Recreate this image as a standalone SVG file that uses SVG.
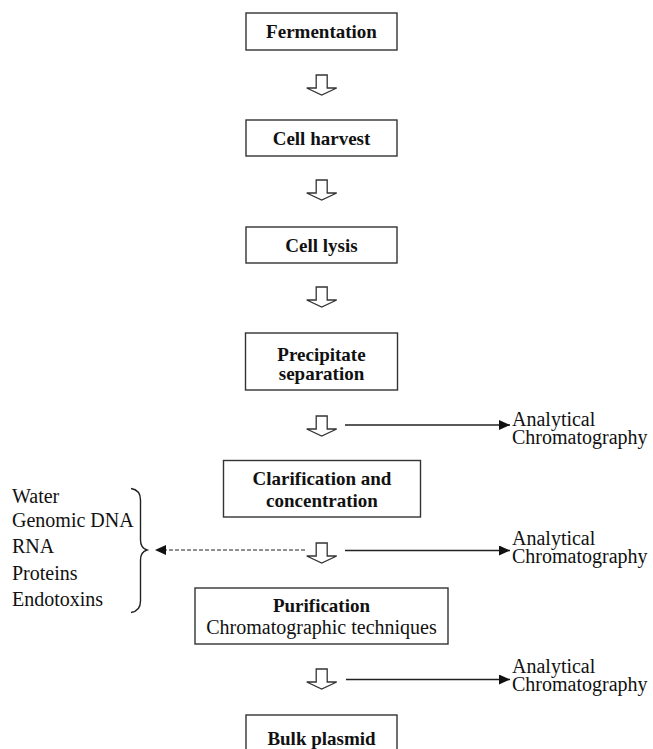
<svg xmlns="http://www.w3.org/2000/svg" width="653" height="749" viewBox="0 0 653 749">
<style>
.box{fill:#fff;stroke:#333;stroke-width:1.4}
.b{font-family:"Liberation Serif","DejaVu Serif",serif;font-weight:bold;font-size:19px;fill:#111;text-anchor:middle}
.r{font-family:"Liberation Serif","DejaVu Serif",serif;font-size:20px;fill:#111}
.rc{text-anchor:middle}
.hol{fill:#fff;stroke:#333;stroke-width:1.3;stroke-linejoin:miter}
.ln{stroke:#222;stroke-width:1.4;fill:none}
.dash{stroke:#222;stroke-width:1.2;fill:none;stroke-dasharray:4 2}
</style>
<defs>
<path id="hollow" d="M-5.5 0 H5.5 V13 H15 L0 20 L-15 13 H-5.5 Z"/>
<marker id="ah" markerWidth="12" markerHeight="10" refX="11" refY="5" orient="auto" markerUnits="userSpaceOnUse">
<path d="M0 0 L11 5 L0 10 Z" fill="#111"/>
</marker>
</defs>

<g id="fermentation">
<rect class="box" x="246" y="13" width="151" height="37"/>
<text class="b" x="321.5" y="38">Fermentation</text>
</g>
<g id="cell-harvest">
<rect class="box" x="246" y="120" width="151" height="36"/>
<text class="b" x="321.5" y="145">Cell harvest</text>
</g>
<g id="cell-lysis">
<rect class="box" x="246" y="227" width="151" height="36"/>
<text class="b" x="321.5" y="252">Cell lysis</text>
</g>
<g id="precipitate-separation">
<rect class="box" x="245.5" y="333" width="152" height="57"/>
<text class="b" x="321.5" y="361">Precipitate<tspan x="321.5" dy="19">separation</tspan></text>
</g>
<g id="clarification">
<rect class="box" x="223.5" y="460.5" width="197" height="56.5"/>
<text class="b" x="322" y="485">Clarification and<tspan x="322" dy="22">concentration</tspan></text>
</g>
<g id="purification">
<rect class="box" x="195" y="588" width="253" height="56"/>
<text class="b" x="321.5" y="612">Purification</text>
<text class="r rc" x="321.5" y="634">Chromatographic techniques</text>
</g>
<g id="bulk-plasmid">
<rect class="box" x="246" y="715" width="151" height="37"/>
<text class="b" x="321.5" y="745">Bulk plasmid</text>
</g>

<g id="analytical-1">
<text class="r" x="512" y="426">Analytical<tspan x="512" dy="18">Chromatography</tspan></text>
</g>
<g id="analytical-2">
<text class="r" x="512" y="545">Analytical<tspan x="512" dy="18">Chromatography</tspan></text>
</g>
<g id="analytical-3">
<text class="r" x="512" y="673">Analytical<tspan x="512" dy="18">Chromatography</tspan></text>
</g>

<g id="impurities">
<text class="r" x="12" y="503">Water</text>
<text class="r" x="12" y="527">Genomic DNA</text>
<text class="r" x="12" y="553">RNA</text>
<text class="r" x="12" y="580">Proteins</text>
<text class="r" x="12" y="606">Endotoxins</text>
<path class="ln" stroke-width="1.3" d="M131 488.5 Q140.5 490 140.5 500 V540 Q140.5 548 147 550 Q140.5 552 140.5 560 V601 Q140.5 611 131 612.5"/>
</g>

<g id="connectors">
<use href="#hollow" class="hol" x="321.7" y="75"/>
<use href="#hollow" class="hol" x="321.7" y="180"/>
<use href="#hollow" class="hol" x="321.7" y="287"/>
<use href="#hollow" class="hol" x="321.7" y="416"/>
<use href="#hollow" class="hol" x="321.7" y="543"/>
<use href="#hollow" class="hol" x="321.7" y="669"/>
<line class="ln" x1="345" y1="425" x2="510" y2="425" marker-end="url(#ah)"/>
<line class="ln" x1="345" y1="550.5" x2="510" y2="550.5" marker-end="url(#ah)"/>
<line class="ln" x1="346" y1="679.5" x2="510" y2="679.5" marker-end="url(#ah)"/>
<line class="dash" x1="305" y1="550" x2="155" y2="550" marker-end="url(#ah)"/>
</g>
</svg>
